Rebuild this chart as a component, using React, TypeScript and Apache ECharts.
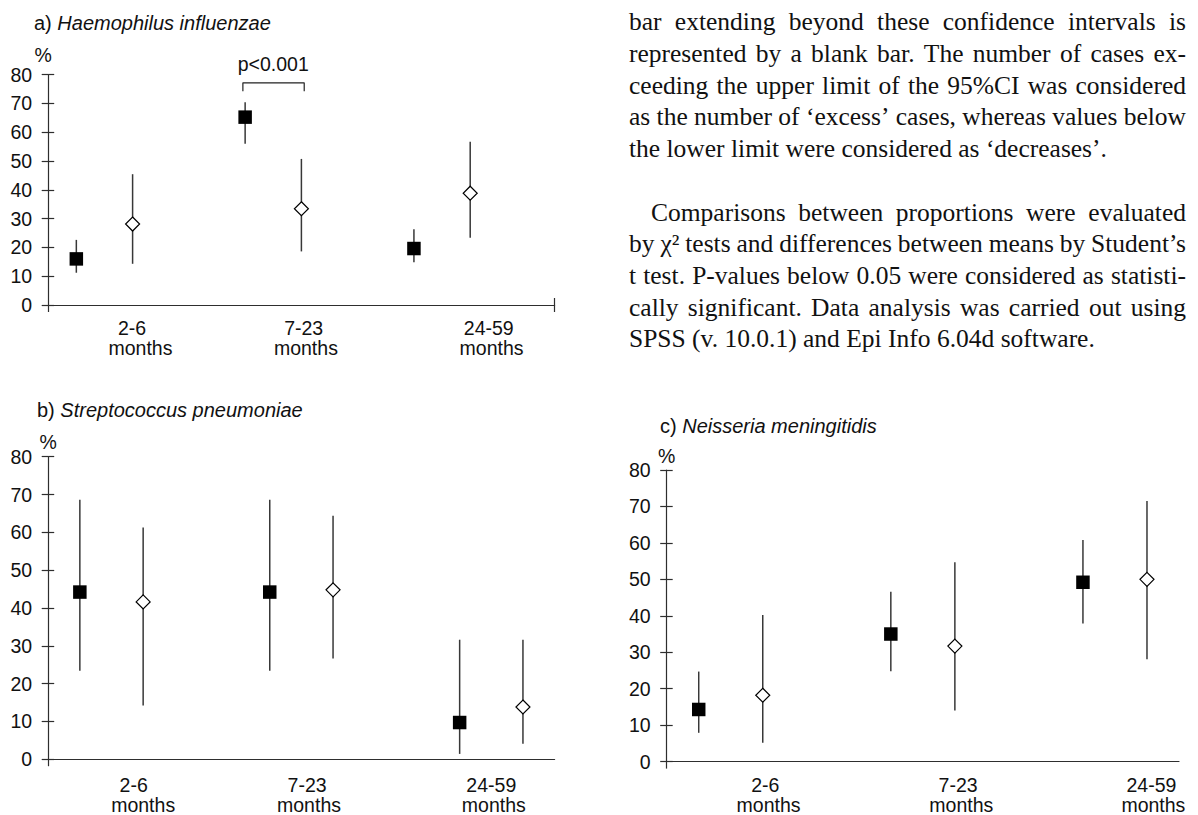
import React, { useEffect, useRef } from "react";
import * as echarts from "echarts";

// ---------- data ----------
const ageGroups = ["2-6", "7-23", "24-59"];
const ageUnit = "months";
const filledX = [0.5, 3.5, 6.5];
const openX = [1.5, 4.5, 7.5];

// a) Haemophilus influenzae
const hiFilled = [16.0, 65.2, 19.6];
const hiFilledLo = [11.2, 56.0, 14.8];
const hiFilledHi = [22.6, 70.4, 26.3];
const hiOpen = [28.1, 33.4, 38.8];
const hiOpenLo = [14.3, 18.6, 23.3];
const hiOpenHi = [45.4, 50.7, 56.7];

// b) Streptococcus pneumoniae
const spFilled = [44.2, 44.2, 9.7];
const spFilledLo = [23.4, 23.4, 1.4];
const spFilledHi = [68.6, 68.6, 31.6];
const spOpen = [41.6, 44.8, 13.8];
const spOpenLo = [14.2, 26.6, 4.1];
const spOpenHi = [61.3, 64.4, 31.6];

// c) Neisseria meningitidis
const nmFilled = [14.3, 35.0, 49.2];
const nmFilledLo = [7.9, 24.8, 37.9];
const nmFilledHi = [24.7, 46.6, 60.8];
const nmOpen = [18.2, 31.7, 50.0];
const nmOpenLo = [5.2, 14.0, 28.1];
const nmOpenHi = [40.2, 54.7, 71.5];

const yMin = 0;
const yMax = 80;
const yStep = 10;

const pText = "p<0.001";
const pBracketX = [3.46, 4.55];
const pBracketY = [74.2, 77.1];
const pTextAt = [4.0, 83.5];

const paragraph1 = [
  "bar extending beyond these confidence intervals is",
  "represented by a blank bar. The number of cases ex-",
  "ceeding the upper limit of the 95%CI was considered",
  "as the number of \u2018excess\u2019 cases, whereas values below",
  "the lower limit were considered as \u2018decreases\u2019.",
];
const paragraph2 = [
  "Comparisons between proportions were evaluated",
  "by \u03C7\u00B2 tests and differences between means by Student\u2019s",
  "t test. P-values below 0.05 were considered as statisti-",
  "cally significant. Data analysis was carried out using",
  "SPSS (v. 10.0.1) and Epi Info 6.04d software.",
];

// ---------- styles ----------
const SANS = '"Liberation Sans", Arial, sans-serif';
const SERIF = '"Liberation Serif", "Times New Roman", serif';
const INK = "#111";
const AXIS = "#2e2e2e";
const FS = 19.5;
const TEXT_FS = 25.5;
const TEXT_LEFT = 629;
const TEXT_RIGHT = 1186;
const TEXT_TOP = 30.5;
const LEAD = 31.7;
const INDENT = 22;

type Panel = {
  grid: { left: number; top: number; width: number; height: number };
  xMax: number;
  filled: number[]; filledLo: number[]; filledHi: number[];
  open: number[]; openLo: number[]; openHi: number[];
  groupX: number[]; unitX: number[];
  margins: [number, number];
  rightTick: boolean;
  prefix: string; name: string;
  titleLeft: number; titleTop: number;
  pctGap: number; pctShift: number;
};

const panels: Panel[] = [
  {
    grid: { left: 48.2, top: 74.5, width: 506.4, height: 230.5 },
    xMax: 9,
    filled: hiFilled, filledLo: hiFilledLo, filledHi: hiFilledHi,
    open: hiOpen, openLo: hiOpenLo, openHi: hiOpenHi,
    groupX: [1.49, 4.54, 7.83], unitX: [1.64, 4.58, 7.88],
    margins: [13.2, 33.2], rightTick: true,
    prefix: "a) ", name: "Haemophilus influenzae",
    titleLeft: 34, titleTop: 12.7, pctGap: 9, pctShift: 10,
  },
  {
    grid: { left: 48.2, top: 456.7, width: 506.4, height: 302.6 },
    xMax: 8,
    filled: spFilled, filledLo: spFilledLo, filledHi: spFilledHi,
    open: spOpen, openLo: spOpenLo, openHi: spOpenHi,
    groupX: [1.35, 4.09, 7.0], unitX: [1.5, 4.12, 7.04],
    margins: [15.8, 35.8], rightTick: false,
    prefix: "b) ", name: "Streptococcus pneumoniae",
    titleLeft: 37, titleTop: 400, pctGap: 5, pctShift: 0,
  },
  {
    grid: { left: 666.7, top: 470, width: 512.3, height: 293.3 },
    xMax: 8,
    filled: nmFilled, filledLo: nmFilledLo, filledHi: nmFilledHi,
    open: nmOpen, openLo: nmOpenLo, openHi: nmOpenHi,
    groupX: [1.54, 4.55, 7.57], unitX: [1.59, 4.6, 7.6],
    margins: [12.9, 33.4], rightTick: false,
    prefix: "c) ", name: "Neisseria meningitidis",
    titleLeft: 660, titleTop: 416, pctGap: 4.5, pctShift: 0,
  },
];

function nearestIndex(arr: number[], v: number) {
  let best = 0;
  for (let i = 1; i < arr.length; i++) {
    if (Math.abs(arr[i] - v) < Math.abs(arr[best] - v)) best = i;
  }
  return best;
}

function layoutParagraphs() {
  const canvas = document.createElement("canvas");
  const ctx = canvas.getContext("2d")!;
  const font = `${TEXT_FS}px ${SERIF}`;
  ctx.font = font;
  const space = ctx.measureText(" ").width;
  const els: any[] = [];
  let lineIdx = 0;
  [paragraph1, paragraph2].forEach((lines, b) => {
    lines.forEach((line, k) => {
      const baseline = TEXT_TOP + lineIdx * LEAD;
      const indent = b > 0 && k === 0 ? INDENT : 0;
      const words = line.split(" ");
      const widths = words.map((w) => ctx.measureText(w).width);
      const total = widths.reduce((s, w) => s + w, 0);
      const last = k === lines.length - 1;
      const gap =
        !last && words.length > 1
          ? (TEXT_RIGHT - TEXT_LEFT - indent - total) / (words.length - 1)
          : space;
      let x = TEXT_LEFT + indent;
      words.forEach((w, j) => {
        els.push({
          type: "text",
          x,
          y: baseline - 0.3375 * TEXT_FS,
          silent: true,
          style: {
            text: w,
            font,
            fill: INK,
            textAlign: "left",
            textVerticalAlign: "middle",
            verticalAlign: "middle",
          },
        });
        x += widths[j] + gap;
      });
      lineIdx++;
    });
    lineIdx++;
  });
  return els;
}

function buildOption() {
  const grid: any[] = [];
  const xAxis: any[] = [];
  const yAxis: any[] = [];
  const series: any[] = [];
  const title: any[] = [];
  const axisLineStyle = { color: AXIS, width: 1.2 };
  const labelStyle = { fontSize: FS, fontFamily: SANS, color: INK };

  panels.forEach((p, i) => {
    grid.push({ ...p.grid, containLabel: false });
    xAxis.push({
      gridIndex: i, type: "value", min: 0, max: p.xMax, position: "bottom",
      axisLine: { show: true, onZero: false, lineStyle: axisLineStyle },
      axisTick: {
        show: true, inside: false, length: 7,
        customValues: p.rightTick ? [0, p.xMax] : [0],
        lineStyle: axisLineStyle,
      },
      axisLabel: {
        show: true, ...labelStyle, margin: p.margins[0],
        customValues: p.groupX,
        formatter: (v: number) => ageGroups[nearestIndex(p.groupX, v)],
      },
      splitLine: { show: false },
    });
    xAxis.push({
      gridIndex: i, type: "value", min: 0, max: p.xMax, position: "bottom",
      axisLine: { show: false, onZero: false },
      axisTick: p.rightTick
        ? { show: true, inside: true, length: 7, customValues: [p.xMax], lineStyle: axisLineStyle }
        : { show: false },
      axisLabel: {
        show: true, ...labelStyle, margin: p.margins[1],
        customValues: p.unitX,
        formatter: () => ageUnit,
      },
      splitLine: { show: false },
    });
    yAxis.push({
      gridIndex: i, type: "value", min: yMin, max: yMax, interval: yStep, position: "left",
      axisLine: { show: true, onZero: false, lineStyle: axisLineStyle },
      axisTick: { show: true, inside: false, length: 6.5, lineStyle: axisLineStyle },
      axisLabel: { show: true, ...labelStyle, margin: 16 },
      splitLine: { show: false },
      name: "%",
      nameLocation: "end",
      nameGap: p.pctGap,
      nameTextStyle: { ...labelStyle, padding: [0, p.pctShift, 0, 0] },
    });
    yAxis.push({
      gridIndex: i, type: "value", min: yMin, max: yMax, interval: yStep, position: "left",
      axisLine: { show: false, onZero: false },
      axisTick: { show: true, inside: true, length: 6, lineStyle: axisLineStyle },
      axisLabel: { show: false },
      splitLine: { show: false },
    });

    const bars = [
      ...filledX.map((x, j) => [x, p.filledLo[j], p.filledHi[j]]),
      ...openX.map((x, j) => [x, p.openLo[j], p.openHi[j]]),
    ];
    series.push({
      type: "custom",
      xAxisIndex: 2 * i,
      yAxisIndex: 2 * i,
      data: bars,
      encode: { x: 0, y: [1, 2] },
      silent: true,
      renderItem: (_params: any, api: any) => {
        const x = api.value(0);
        const a = api.coord([x, api.value(1)]);
        const b = api.coord([x, api.value(2)]);
        return {
          type: "line",
          shape: { x1: a[0], y1: a[1], x2: b[0], y2: b[1] },
          style: { stroke: "#383838", lineWidth: 1.5 },
        };
      },
    });
    series.push({
      type: "scatter",
      xAxisIndex: 2 * i,
      yAxisIndex: 2 * i,
      symbol: "rect",
      symbolSize: 13.5,
      itemStyle: { color: "#000", opacity: 1 },
      data: filledX.map((x, j) => [x, p.filled[j]]),
      silent: true,
    });
    series.push({
      type: "scatter",
      xAxisIndex: 2 * i,
      yAxisIndex: 2 * i,
      symbol: "diamond",
      symbolSize: [14, 14],
      itemStyle: { color: "#fff", borderColor: "#000", borderWidth: 1.2, opacity: 1 },
      data: openX.map((x, j) => [x, p.open[j]]),
      silent: true,
    });

    title.push({
      text: `{n|${p.prefix}}{i|${p.name}}`,
      left: p.titleLeft,
      top: p.titleTop,
      padding: 0,
      textStyle: {
        fontWeight: "normal",
        rich: {
          n: { fontSize: 20, fontFamily: SANS, color: INK, fontWeight: "normal", lineHeight: 20 },
          i: { fontSize: 20, fontFamily: SANS, color: INK, fontWeight: "normal", fontStyle: "italic", lineHeight: 20 },
        },
      },
    });
  });

  // significance bracket in panel a
  series.push({
    type: "line",
    xAxisIndex: 0,
    yAxisIndex: 0,
    data: [
      [pBracketX[0], pBracketY[0]],
      [pBracketX[0], pBracketY[1]],
      [pBracketX[1], pBracketY[1]],
      [pBracketX[1], pBracketY[0]],
    ],
    showSymbol: false,
    symbol: "none",
    clip: false,
    lineStyle: { color: "#222", width: 1.2 },
    silent: true,
  });
  series.push({
    type: "scatter",
    xAxisIndex: 0,
    yAxisIndex: 0,
    data: [pTextAt],
    symbolSize: 0,
    clip: false,
    itemStyle: { color: INK, opacity: 1 },
    label: {
      show: true,
      position: "inside",
      formatter: pText,
      fontSize: FS,
      fontFamily: SANS,
      color: INK,
      opacity: 1,
    },
    silent: true,
  });

  return {
    animation: false,
    backgroundColor: "#fff",
    title,
    grid,
    xAxis,
    yAxis,
    series,
    graphic: { elements: layoutParagraphs() },
  };
}

export default function App() {
  const ref = useRef<HTMLDivElement>(null);
  useEffect(() => {
    const el = ref.current;
    if (!el) return;
    const chart = echarts.init(el, undefined, { renderer: "svg" });
    chart.setOption(buildOption() as any);
    return () => chart.dispose();
  }, []);
  return (
    <div
      ref={ref}
      style={{ position: "fixed", left: 0, top: 0, width: 1198, height: 815, background: "#fff" }}
    />
  );
}
